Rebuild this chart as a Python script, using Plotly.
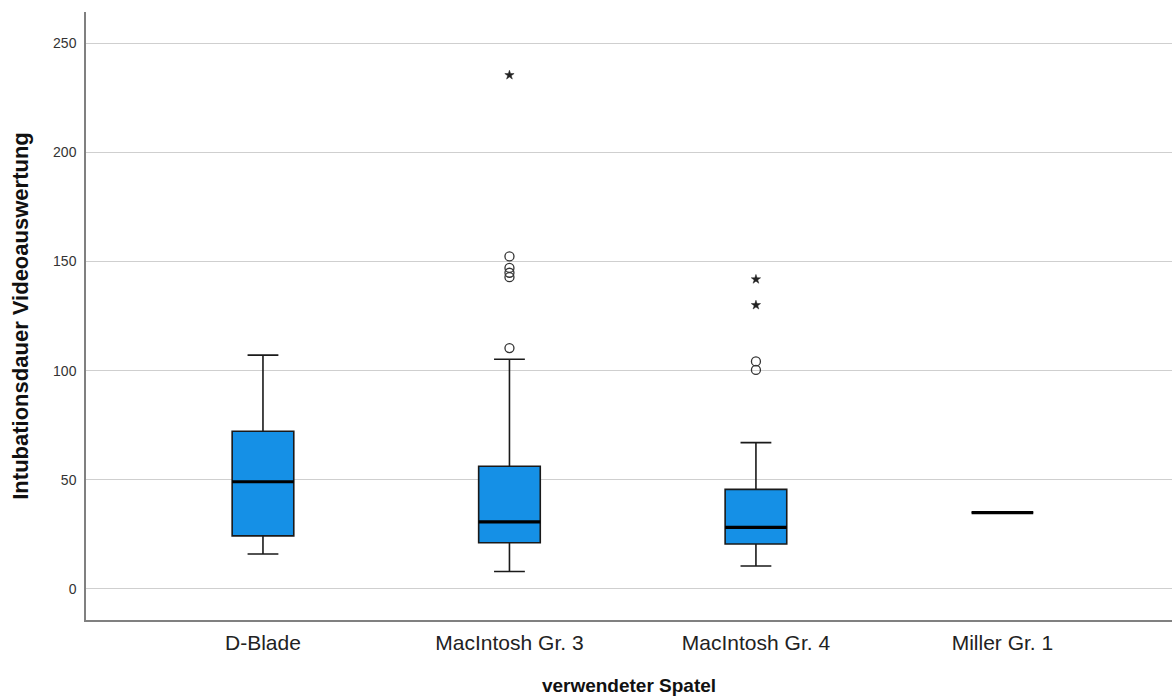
import plotly.graph_objects as go

categories = ["D-Blade", "MacIntosh Gr. 3", "MacIntosh Gr. 4", "Miller Gr. 1"]
lower_whisker = [16, 8, 10.5, 35]
q1 = [24.3, 21.2, 20.6, 35]
median = [49.1, 30.7, 28.2, 35]
q3 = [72.2, 56.2, 45.6, 35]
upper_whisker = [107.1, 105.2, 67, 35]

# outliers (circles) and extreme values (stars)
circle_cat = [1, 1, 1, 1, 1, 2, 2]
circle_val = [110.3, 142.8, 144.8, 147, 152.3, 100.3, 104.2]
star_cat = [1, 2, 2]
star_val = [235.3, 130, 141.8]

y_ticks = [0, 50, 100, 150, 200, 250]

pos = list(range(len(categories)))
box_w = 0.25
fill = "#1590E6"
font = "Liberation Sans, Arial, sans-serif"

fig = go.Figure()
fig.add_trace(go.Box(
    x=pos, q1=q1, median=median, q3=q3,
    lowerfence=lower_whisker, upperfence=upper_whisker,
    width=box_w, whiskerwidth=0.5,
    fillcolor=fill, line=dict(color="#1a1a1a", width=1.6),
    boxpoints=False, showlegend=False, hoverinfo="skip",
))

# thick median lines
mx, my = [], []
for p, m in zip(pos, median):
    mx += [p - box_w / 2, p + box_w / 2, None]
    my += [m, m, None]
fig.add_trace(go.Scatter(x=mx, y=my, mode="lines",
                         line=dict(color="#000000", width=3.2),
                         showlegend=False, hoverinfo="skip"))

fig.add_trace(go.Scatter(x=circle_cat, y=circle_val, mode="markers",
                         marker=dict(symbol="circle-open", size=9,
                                     line=dict(color="#333333", width=1.3),
                                     color="#333333"),
                         showlegend=False, hoverinfo="skip"))
fig.add_trace(go.Scatter(x=star_cat, y=star_val, mode="markers",
                         marker=dict(symbol="star", size=7,
                                     line=dict(color="#222222", width=0.5),
                                     color="#222222"),
                         showlegend=False, hoverinfo="skip"))

fig.update_layout(
    width=1172, height=698,
    margin=dict(l=86, r=0, t=12, b=78),
    paper_bgcolor="white", plot_bgcolor="white",
    font=dict(family=font, color="#1a1a1a"),
)
fig.update_xaxes(
    range=[-0.718, 3.688], tickvals=pos, ticktext=categories,
    tickfont=dict(size=21, color="#222222"),
    showgrid=False, zeroline=False,
    showline=True, linecolor="#808080", linewidth=1.5,
    ticks="outside", ticklen=3, tickcolor="rgba(0,0,0,0)",
    title=dict(text="<b>verwendeter Spatel</b>", font=dict(size=19, color="#111111"), standoff=26),
)
fig.update_yaxes(
    range=[-14.2, 264.2], tickvals=y_ticks,
    tickfont=dict(size=14, color="#333333"),
    showgrid=True, gridcolor="#CFCFCF", gridwidth=1.3, zeroline=False,
    showline=True, linecolor="#808080", linewidth=1.5,
    ticks="outside", ticklen=5, tickcolor="rgba(0,0,0,0)",
    title=dict(text="<b>Intubationsdauer Videoauswertung</b>", font=dict(size=22, color="#111111"), standoff=18),
)

fig.write_html("out.html", config={"displayModeBar": False},
               post_script="document.body.style.margin='0';")
